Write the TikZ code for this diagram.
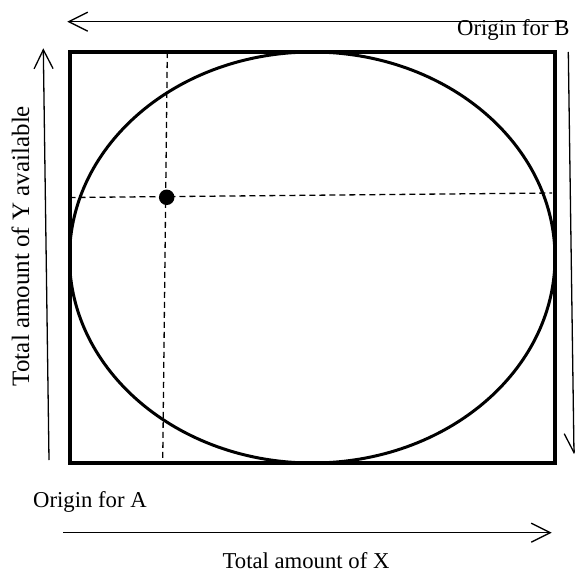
\documentclass[tikz,border=0pt]{standalone}
\usepackage{fontspec}
\setmainfont{Liberation Serif}
\usetikzlibrary{arrows.meta}
\begin{document}
\begin{tikzpicture}[x=1pt,y=-1pt,
  arr/.style={line width=1.3pt,-{Straight Barb[length=19pt,width=19pt]}},
  guide/.style={line width=1.3pt,dash pattern=on 6pt off 4pt},
  lbl/.style={inner sep=0pt,font=\fontsize{22.7}{27}\selectfont},
  vlbl/.style={inner sep=0pt,font=\fontsize{25}{30}\selectfont,rotate=90}]
\useasboundingbox (0,0) rectangle (575,572);
\fill[white] (0,0) rectangle (575,572);
% box and ellipse
\coordinate (rTL) at (69.5,52);
\coordinate (rBR) at (555,463);
\draw[line width=4pt] (rTL) rectangle (rBR);
\draw[line width=3pt] (312.25,257.5) ellipse [x radius=242.75, y radius=205.5];
% dashed guides
\coordinate (vT) at (167.3,52);
\coordinate (vB) at (162.7,463);
\draw[guide] (vT) -- (vB);
\coordinate (hL) at (69.5,197.5);
\coordinate (hR) at (552,193);
\draw[guide] (hL) -- (hR);
\node[circle,fill,minimum size=15.5pt,inner sep=0pt] (dot) at (166.7,197.3) {};
% arrows
\coordinate (tS) at (567,21.7);
\coordinate (tE) at (67.3,21.7);
\draw[arr] (tS) -- (tE);
\coordinate (lS) at (49,460);
\coordinate (lE) at (43.3,48.3);
\draw[arr] (lS) -- (lE);
\coordinate (rS) at (568.3,52);
\coordinate (rE) at (574,454);
\draw[arr] (rS) -- (rE);
\coordinate (bS) at (63,532.7);
\coordinate (bE) at (551.7,532.7);
\draw[arr] (bS) -- (bE);
% labels
\node[lbl,anchor=base west] (oB) at (457,36) {Origin for B};
\node[lbl,anchor=base west] (oA) at (33,507) {Origin for A};
\node[lbl,anchor=base] (tx) at (306,568) {Total amount of X};
\node[vlbl,anchor=base] (ty) at (29,246) {Total amount of Y available};
\end{tikzpicture}
\end{document}
